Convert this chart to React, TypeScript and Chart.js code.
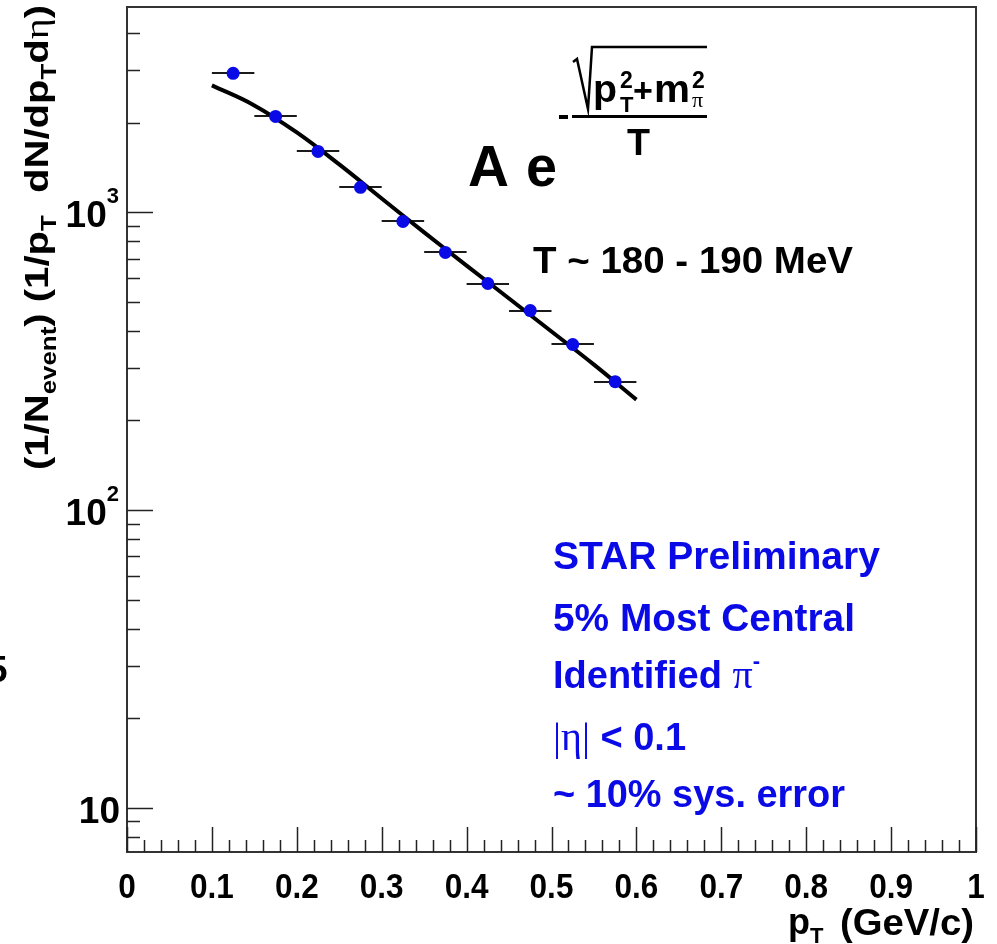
import React, { useEffect, useRef } from "react";
import { Chart, registerables } from "chart.js";

Chart.register(...registerables);

// ---- data ----
const pointPt = [0.125, 0.175, 0.225, 0.275, 0.325, 0.375, 0.425, 0.475, 0.525, 0.575];
const pointYield = [2933, 2102, 1603, 1214, 933, 734, 577, 468, 360, 270];
const pointPtErr = [0.025, 0.025, 0.025, 0.025, 0.025, 0.025, 0.025, 0.025, 0.025, 0.025];

const fitPt = [0.1, 0.15, 0.2, 0.25, 0.3, 0.35, 0.4, 0.45, 0.5, 0.55, 0.6];
const fitYield = [2673, 2289, 1857, 1450, 1114, 857, 663, 514, 398, 308, 235];

const xTickValues = [0, 0.1, 0.2, 0.3, 0.4, 0.5, 0.6, 0.7, 0.8, 0.9, 1];
const xTickLabels = ["0", "0.1", "0.2", "0.3", "0.4", "0.5", "0.6", "0.7", "0.8", "0.9", "1"];
const yTickValues = [10, 100, 1000];
const yTickBase = ["10", "10", "10"];
const yTickExp = ["", "2", "3"];

const infoLines = ["STAR Preliminary", "5% Most Central", "Identified", "|η|", "~ 10% sys. error"];
const tempLabel = "T ~ 180 - 190 MeV";

const X_MIN = 0;
const X_MAX = 1;
const Y_MIN = 7.1;
const Y_MAX = 4900;

const SANS = '"Liberation Sans", Arial, Helvetica, sans-serif';
const SERIF = '"Liberation Serif", "DejaVu Serif", serif';
const BLUE = "#0a0ae6";

type Seg = { t: string; size: number; dy?: number; bold?: boolean; family?: string; sx?: number };

function setFont(ctx: CanvasRenderingContext2D, s: Seg) {
  ctx.font = `${s.bold === false ? "" : "bold "}${s.size}px ${s.family || SANS}`;
}

function segWidth(ctx: CanvasRenderingContext2D, segs: Seg[]) {
  let w = 0;
  for (const s of segs) {
    setFont(ctx, s);
    w += ctx.measureText(s.t).width * (s.sx || 1);
  }
  return w;
}

function drawSegs(
  ctx: CanvasRenderingContext2D,
  segs: Seg[],
  x: number,
  y: number,
  color: string,
  targetWidth?: number
) {
  const natural = segWidth(ctx, segs);
  const k = targetWidth ? targetWidth / natural : 1;
  ctx.save();
  ctx.translate(x, y);
  ctx.scale(k, 1);
  ctx.fillStyle = color;
  ctx.textAlign = "left";
  ctx.textBaseline = "alphabetic";
  let cx = 0;
  for (const s of segs) {
    setFont(ctx, s);
    const sx = s.sx || 1;
    ctx.save();
    ctx.translate(cx, s.dy || 0);
    ctx.scale(sx, 1);
    ctx.fillText(s.t, 0, 0);
    ctx.restore();
    cx += ctx.measureText(s.t).width * sx;
  }
  ctx.restore();
  return natural * k;
}

const decor = {
  id: "rootDecor",
  beforeDatasetsDraw(chart: any) {
    const ctx: CanvasRenderingContext2D = chart.ctx;
    const xs = chart.scales.x;
    const ys = chart.scales.y;
    ctx.save();
    ctx.strokeStyle = "#1a1a1a";
    ctx.lineWidth = 2;
    for (let i = 0; i < pointPt.length; i++) {
      const y = Math.round(ys.getPixelForValue(pointYield[i]));
      ctx.beginPath();
      ctx.moveTo(xs.getPixelForValue(pointPt[i] - pointPtErr[i]), y);
      ctx.lineTo(xs.getPixelForValue(pointPt[i] + pointPtErr[i]), y);
      ctx.stroke();
    }
    ctx.restore();
  },
  afterDraw(chart: any) {
    const ctx: CanvasRenderingContext2D = chart.ctx;
    const xs = chart.scales.x;
    const ys = chart.scales.y;
    const a = chart.chartArea;
    ctx.save();

    // frame
    ctx.strokeStyle = "#333";
    ctx.lineWidth = 2;
    ctx.strokeRect(a.left, a.top, a.right - a.left, a.bottom - a.top);

    // y ticks (inward)
    ctx.strokeStyle = "#222";
    ctx.lineWidth = 1.5;
    for (let e = 0; e <= 3; e++) {
      for (let m = 1; m <= 9; m++) {
        const v = m * Math.pow(10, e);
        if (v < Y_MIN || v > Y_MAX) continue;
        const p = Math.round(ys.getPixelForValue(v)) + 0.5;
        const len = m === 1 ? 26 : 13;
        ctx.beginPath();
        ctx.moveTo(a.left, p);
        ctx.lineTo(a.left + len, p);
        ctx.stroke();
      }
    }
    // x ticks (inward)
    for (let k = 0; k <= 50; k++) {
      const v = k * 0.02;
      const p = Math.round(xs.getPixelForValue(v)) + 0.5;
      const len = k % 5 === 0 ? 25 : 12;
      ctx.beginPath();
      ctx.moveTo(p, a.bottom);
      ctx.lineTo(p, a.bottom - len);
      ctx.stroke();
    }

    // x tick labels
    for (let i = 0; i < xTickValues.length; i++) {
      const p = xs.getPixelForValue(xTickValues[i]);
      const seg: Seg[] = [{ t: xTickLabels[i], size: 35, sx: 0.9 }];
      const w = segWidth(ctx, seg);
      drawSegs(ctx, seg, p - w / 2, a.bottom + 46, "#000");
    }

    // y tick labels
    for (let i = 0; i < yTickValues.length; i++) {
      const p = ys.getPixelForValue(yTickValues[i]);
      const segs: Seg[] = [{ t: yTickBase[i], size: 37 }];
      if (yTickExp[i]) segs.push({ t: yTickExp[i], size: 22, dy: -24 });
      const w = segWidth(ctx, segs);
      const right = yTickExp[i] ? 119 : 120;
      drawSegs(ctx, segs, right - w, p + 15, "#000");
    }

    // stray fragment at the left edge
    drawSegs(ctx, [{ t: "5", size: 37 }], -13, 682, "#000");

    // y axis title (rotated)
    ctx.save();
    ctx.translate(48, 470);
    ctx.rotate(-Math.PI / 2);
    drawSegs(
      ctx,
      [
        { t: "(1/N", size: 34 },
        { t: "event", size: 22, dy: 8 },
        { t: ") (1/p", size: 34 },
        { t: "T", size: 22, dy: 8 },
        { t: "  dN/dp", size: 34 },
        { t: "T", size: 22, dy: 8 },
        { t: "d", size: 34 },
        { t: "η", size: 34, bold: false, family: SERIF },
        { t: ")", size: 34 },
      ],
      0,
      0,
      "#000",
      465
    );
    ctx.restore();

    // x axis title
    drawSegs(ctx, [{ t: "p", size: 36 }, { t: "T", size: 22, dy: 9 }], 788, 934, "#000");
    drawSegs(ctx, [{ t: "(GeV/c)", size: 36 }], 840, 935, "#000", 134);

    // formula: A e^{-sqrt(pT^2+m^2)/T}
    drawSegs(ctx, [{ t: "A", size: 58 }], 468, 186, "#000", 41);
    drawSegs(ctx, [{ t: "e", size: 58 }], 526, 186, "#000", 31);
    ctx.fillStyle = "#000";
    ctx.fillRect(559, 115, 9, 4);
    ctx.fillRect(572, 115, 135, 3);
    ctx.strokeStyle = "#000";
    ctx.lineWidth = 2.5;
    ctx.lineJoin = "miter";
    ctx.beginPath();
    ctx.moveTo(573, 62);
    ctx.lineTo(577, 59);
    ctx.lineTo(588, 109);
    ctx.lineTo(592, 47);
    ctx.lineTo(707, 47);
    ctx.stroke();
    drawSegs(ctx, [{ t: "p", size: 38 }], 593, 102, "#000", 24);
    drawSegs(ctx, [{ t: "2", size: 23 }], 620, 88, "#000");
    drawSegs(ctx, [{ t: "T", size: 22 }], 620, 112, "#000");
    drawSegs(ctx, [{ t: "+", size: 34 }], 633, 102, "#000");
    drawSegs(ctx, [{ t: "m", size: 38 }], 654, 102, "#000", 36);
    drawSegs(ctx, [{ t: "2", size: 23 }], 692, 88, "#000");
    drawSegs(ctx, [{ t: "π", size: 22, bold: false, family: SERIF }], 692, 107, "#000");
    drawSegs(ctx, [{ t: "T", size: 36 }], 627, 155, "#000", 23);

    // temperature label
    drawSegs(ctx, [{ t: tempLabel, size: 36 }], 533, 273, "#000", 320);

    // info block
    const bx = 553;
    drawSegs(ctx, [{ t: infoLines[0], size: 38 }], bx, 569, BLUE, 327);
    drawSegs(ctx, [{ t: infoLines[1], size: 38 }], bx, 631, BLUE, 302);
    drawSegs(
      ctx,
      [
        { t: infoLines[2] + " ", size: 38 },
        { t: "π", size: 40, bold: false, family: SERIF },
        { t: "-", size: 22, dy: -20 },
      ],
      bx,
      688,
      BLUE
    );
    drawSegs(
      ctx,
      [
        { t: infoLines[3], size: 40, bold: false, family: SERIF },
        { t: " < 0.1", size: 38 },
      ],
      bx,
      750,
      BLUE
    );
    drawSegs(ctx, [{ t: infoLines[4], size: 38 }], bx, 807, BLUE, 292);

    ctx.restore();
  },
};

export default function App() {
  const ref = useRef<HTMLCanvasElement>(null);
  useEffect(() => {
    if (!ref.current) return;
    const chart = new Chart(ref.current, {
      type: "scatter",
      data: {
        datasets: [
          {
            type: "line",
            label: "fit",
            data: fitPt.map((x, i) => ({ x, y: fitYield[i] })),
            borderColor: "#000",
            borderWidth: 4,
            pointRadius: 0,
            tension: 0.4,
            fill: false,
            order: 1,
          } as any,
          {
            label: "data",
            data: pointPt.map((x, i) => ({ x, y: pointYield[i] })),
            backgroundColor: BLUE,
            borderColor: BLUE,
            borderWidth: 0,
            pointRadius: 6.5,
            order: 0,
          },
        ],
      },
      options: {
        responsive: false,
        animation: false,
        layout: { padding: { left: 127, right: 21, top: 7, bottom: 92 } },
        plugins: { legend: { display: false }, tooltip: { enabled: false } },
        scales: {
          x: { type: "linear", min: X_MIN, max: X_MAX, display: false },
          y: { type: "logarithmic", min: Y_MIN, max: Y_MAX, display: false },
        },
      },
      plugins: [decor],
    });
    return () => chart.destroy();
  }, []);
  return (
    <div style={{ position: "fixed", left: 0, top: 0, width: 997, height: 944, background: "#fff" }}>
      <canvas ref={ref} width={997} height={944} style={{ display: "block" }} />
    </div>
  );
}
